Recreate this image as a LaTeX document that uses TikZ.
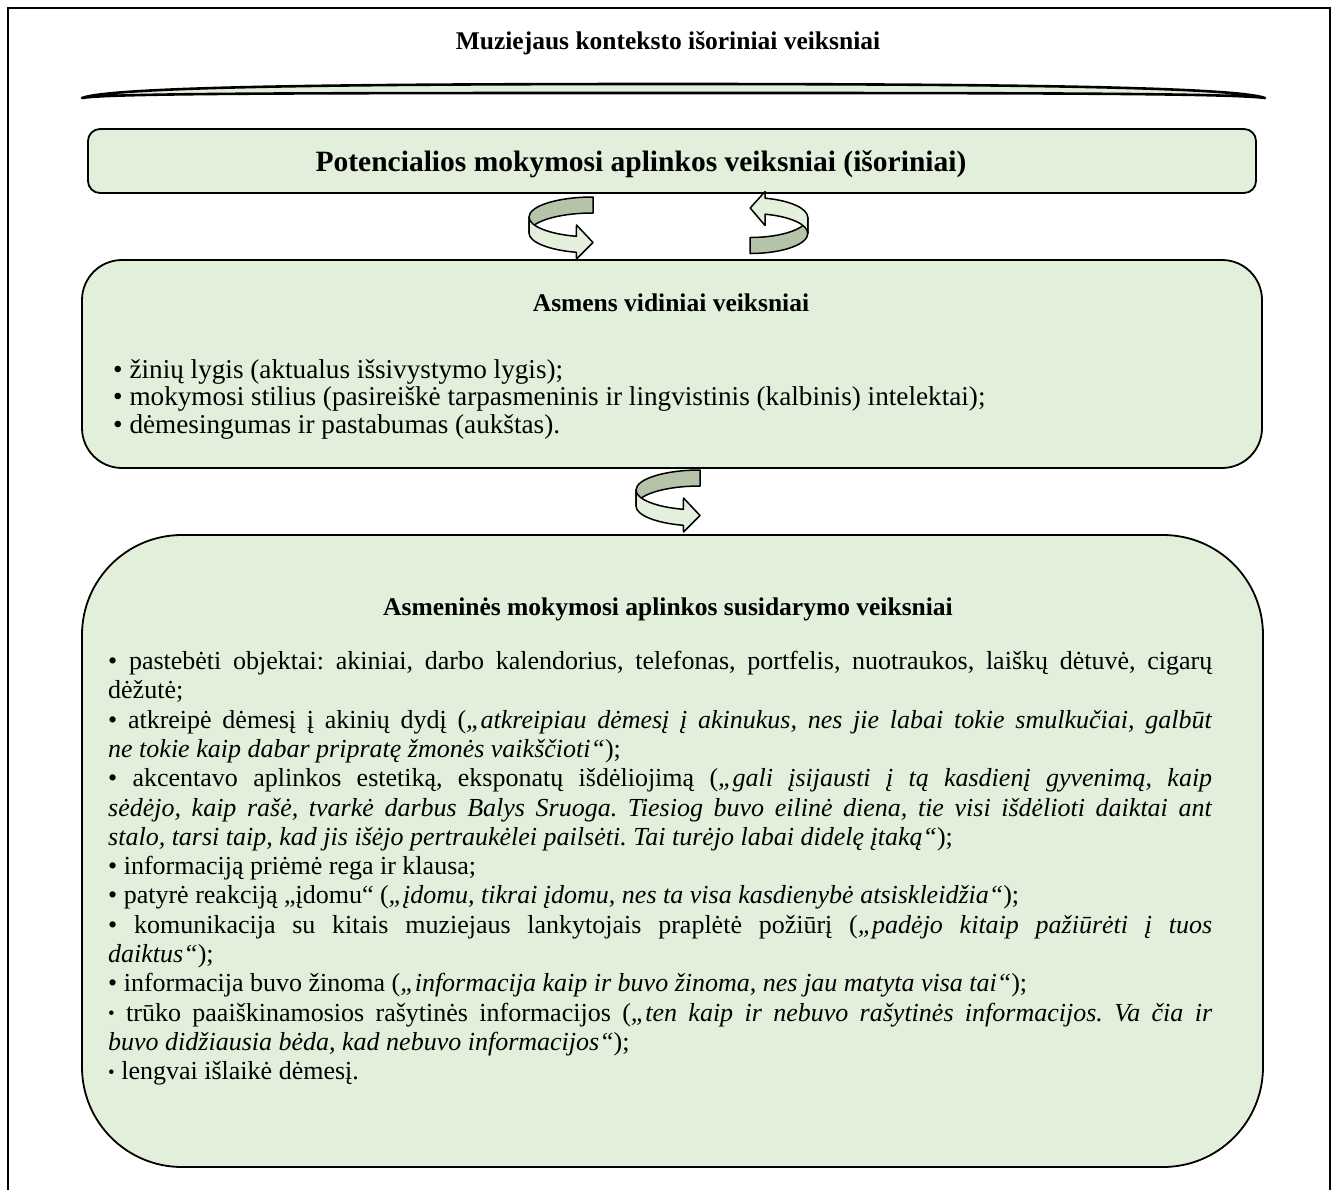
\documentclass[tikz,border=0pt]{standalone}
\usepackage{fontspec}
\setmainfont{Liberation Serif}
\frenchspacing
\definecolor{boxgreen}{HTML}{E2EFDA}
\definecolor{darkband}{HTML}{B5C4A8}
\definecolor{lightband}{HTML}{E4F0DC}
\newcommand{\bodysize}{\fontsize{26}{30}\selectfont}
\newcommand{\midsize}{\fontsize{27.2}{30}\selectfont}
\newcommand{\sbul}{{\fontsize{19}{19}\selectfont\raisebox{0.15ex}{•}}}
\newcommand{\jl}[1]{\makebox[1104pt][s]{#1}}
\tikzset{
  gbox/.style={draw=black, line width=1.8pt, fill=boxgreen, inner sep=0pt},
  ttl/.style={font=\fontsize{25.5}{30}\selectfont\bfseries, inner sep=0pt, anchor=base},
  bline/.style={font=\bodysize, inner sep=0pt, anchor=base west},
  mline/.style={font=\midsize, inner sep=0pt, anchor=base west},
  uturn/.pic={
    \filldraw[fill=darkband, draw=black, line width=1.5pt, line join=round]
      (32,30) arc[start angle=90,end angle=180,x radius=64,y radius=20]
      -- (-32,-6) arc[start angle=180,end angle=90,x radius=64,y radius=20] -- cycle;
    \filldraw[fill=lightband, draw=black, line width=1.5pt, line join=round]
      (-32,10) arc[start angle=180,end angle=255,x radius=64,y radius=20]
      -- (15.5,2) -- (32,-15.5) -- (15.5,-32)
      -- (15.44,-25.32) arc[start angle=255,end angle=180,x radius=64,y radius=20] -- cycle;
  }
}
\begin{document}
\begin{tikzpicture}[x=1pt,y=1pt]
\useasboundingbox (0,0) rectangle (1336,-1189);
\fill[white] (0,0) rectangle (1336,-1189);
% outer frame
\draw[line width=2pt] (8,-1200) -- (8,-8) -- (1330,-8) -- (1330,-1200);
% title and swoosh
\node[ttl] (title) at (668,-49) {Muziejaus konteksto išoriniai veiksniai};
\filldraw[fill=boxgreen, line width=2.6pt, line join=round]
  (82,-98) .. controls (112,-87) and (330,-84) .. (668,-84)
  .. controls (1006,-84) and (1234,-87) .. (1265,-98)
  .. controls (1228,-93) and (1000,-93) .. (668,-93)
  .. controls (336,-93) and (108,-93) .. (82,-98) -- cycle;
% boxes
\node[gbox, rounded corners=12pt, minimum width=1168pt, minimum height=64pt] (top) at (672,-161) {};
\node[gbox, rounded corners=40pt, minimum width=1180pt, minimum height=208pt] (mid) at (672,-364) {};
\node[gbox, rounded corners=100pt, minimum width=1181pt, minimum height=632pt] (big) at (672.5,-851) {};
% arrows
\pic at (561,-227) {uturn};
\pic[rotate=180, xscale=0.9] at (779,-223.5) {uturn};
\pic at (668,-500) {uturn};
% top box text
\node[ttl, font=\fontsize{29.5}{34}\selectfont\bfseries] (toptxt) at (641,-171) {Potencialios mokymosi aplinkos veiksniai (išoriniai)};
% middle box
\node[ttl] (midttl) at (671,-311) {Asmens vidiniai veiksniai};
\node[mline] (m1) at (113,-378) {• žinių lygis (aktualus išsivystymo lygis);};
\node[mline] (m2) at (113,-405.5) {• mokymosi stilius (pasireiškė tarpasmeninis ir lingvistinis (kalbinis) intelektai);};
\node[mline] (m3) at (113,-433) {• dėmesingumas ir pastabumas (aukštas).};
% big box
\node[ttl] (bigttl) at (668,-615) {Asmeninės mokymosi aplinkos susidarymo veiksniai};
\node[bline] (b1) at (108,-669.5) {\jl{• pastebėti objektai: akiniai, darbo kalendorius, telefonas, portfelis, nuotraukos, laiškų dėtuvė, cigarų}};
\node[bline] (b2) at (108,-698.8) {dėžutė;};
\node[bline] (b3) at (108,-728.1) {\jl{• atkreipė dėmesį į akinių dydį (\textit{„atkreipiau dėmesį į akinukus, nes jie labai tokie smulkučiai, galbūt}}};
\node[bline] (b4) at (108,-757.4) {\textit{ne tokie kaip dabar pripratę žmonės vaikščioti“});};
\node[bline] (b5) at (108,-786.7) {\jl{• akcentavo aplinkos estetiką, eksponatų išdėliojimą (\textit{„gali įsijausti į tą kasdienį gyvenimą, kaip}}};
\node[bline] (b6) at (108,-816.0) {\jl{\textit{sėdėjo, kaip rašė, tvarkė darbus Balys Sruoga. Tiesiog buvo eilinė diena, tie visi išdėlioti daiktai ant}}};
\node[bline] (b7) at (108,-845.3) {\textit{stalo, tarsi taip, kad jis išėjo pertraukėlei pailsėti. Tai turėjo labai didelę įtaką“});};
\node[bline] (b8) at (108,-874.6) {• informaciją priėmė rega ir klausa;};
\node[bline] (b9) at (108,-903.9) {• patyrė reakciją „įdomu“ (\textit{„įdomu, tikrai įdomu, nes ta visa kasdienybė atsiskleidžia“});};
\node[bline] (b10) at (108,-933.2) {\jl{• komunikacija su kitais muziejaus lankytojais praplėtė požiūrį (\textit{„padėjo kitaip pažiūrėti į tuos}}};
\node[bline] (b11) at (108,-962.5) {\textit{daiktus“});};
\node[bline] (b12) at (108,-991.8) {• informacija buvo žinoma (\textit{„informacija kaip ir buvo žinoma, nes jau matyta visa tai“});};
\node[bline] (b13) at (108,-1021.1) {\jl{\sbul\ trūko paaiškinamosios rašytinės informacijos (\textit{„ten kaip ir nebuvo rašytinės informacijos. Va čia ir}}};
\node[bline] (b14) at (108,-1050.4) {\textit{buvo didžiausia bėda, kad nebuvo informacijos“});};
\node[bline] (b15) at (108,-1079.7) {\sbul\ lengvai išlaikė dėmesį.};
\end{tikzpicture}
\end{document}
